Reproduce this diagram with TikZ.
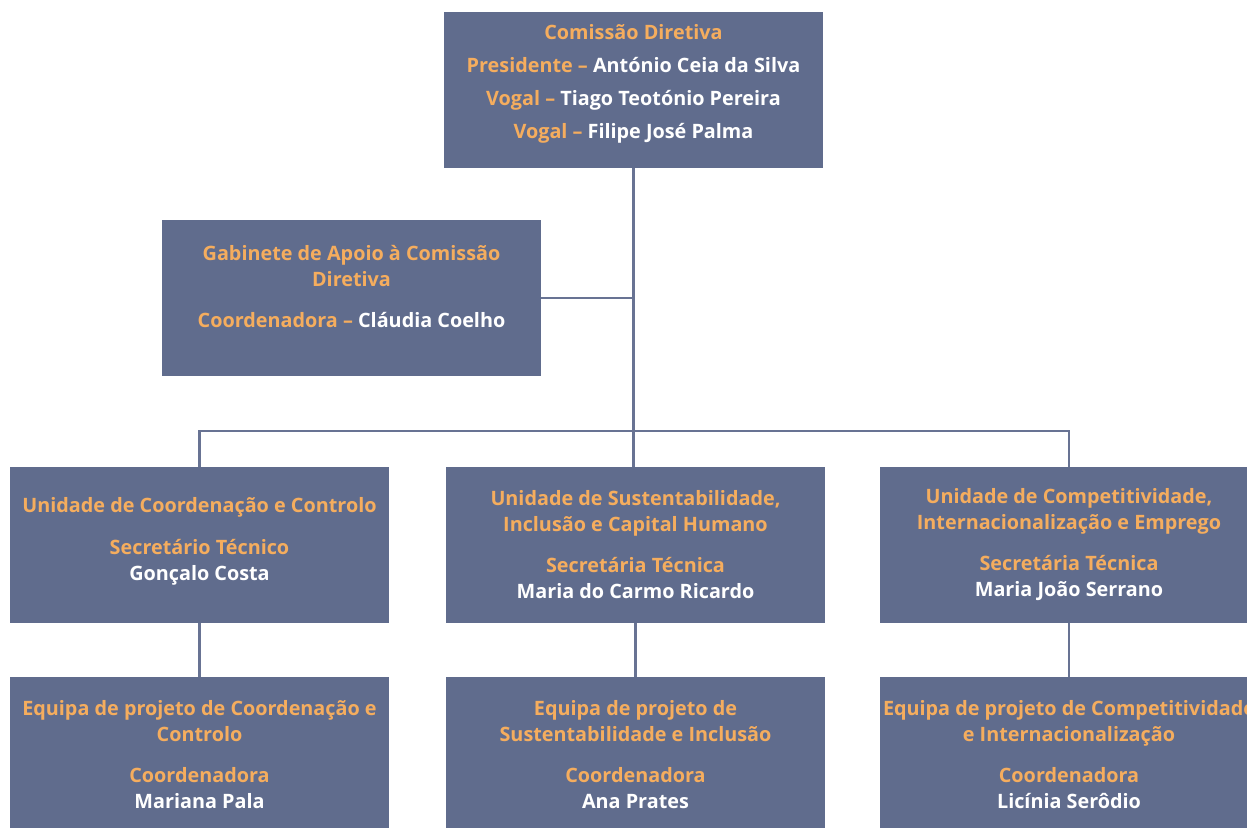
\documentclass[tikz,border=0pt]{standalone}
\usepackage{fontspec}
\setmainfont{Open Sans}
\usepackage{xcolor}
\definecolor{boxblue}{RGB}{96,108,141}
\definecolor{linkblue}{RGB}{104,115,147}
\definecolor{rolecol}{RGB}{245,173,94}
\newcommand{\role}[1]{\textcolor{rolecol}{#1}}

\begin{document}
\begin{tikzpicture}[x=0.5pt,y=-0.5pt,
    box/.style={fill=boxblue, minimum width=189.5pt, minimum height=78pt, inner sep=0pt,
      text=white, align=center, font=\bfseries\fontsize{9.9}{13}\selectfont},
    txt/.style={text=white, align=center, inner sep=0pt, font=\bfseries\fontsize{9.9}{13}\selectfont},
    link/.style={draw=linkblue, line width=1.2pt}]
      \useasboundingbox (0,0) rectangle (1247,827);
      % Boxes
      \node[box] (cd) at (633.5,90) {};
      \node[txt, below] at ([yshift=-6pt]cd.north) {\role{Comissão Diretiva}\\[3.5pt]
        \role{Presidente –} António Ceia da Silva\\[3.5pt]
        \role{Vogal –} Tiago Teotónio Pereira\\[3.5pt]
        \role{Vogal –} Filipe José Palma};
      \node[box] (gab) at (351.5,298) {};
      \node[txt, below] at ([yshift=-12.5pt]gab.north) {\role{Gabinete de Apoio à Comissão}\\
        \role{Diretiva}\\[7.5pt]
        \role{Coordenadora –} Cláudia Coelho};
      \node[box] (ucc) at (199.5,545) {};
      \node[txt] at ([yshift=2pt]ucc.center) {\role{Unidade de Coordenação e Controlo}\\[8pt]
        \role{Secretário Técnico}\\Gonçalo Costa};
      \node[box] (usi) at (635.5,545) {\role{Unidade de Sustentabilidade,}\\
        \role{Inclusão e Capital Humano}\\[7.5pt]
        \role{Secretária Técnica}\\Maria do Carmo Ricardo};
      \node[box] (uci) at (1069,545) {\role{Unidade de Competitividade,}\\
        \role{Internacionalização e Emprego}\\[7.5pt]
        \role{Secretária Técnica}\\Maria João Serrano};
      \node[box] (ecc) at (199.5,755) {\role{Equipa de projeto de Coordenação e}\\
        \role{Controlo}\\[7.5pt]
        \role{Coordenadora}\\Mariana Pala};
      \node[box] (esi) at (635.5,755) {\role{Equipa de projeto de}\\
        \role{Sustentabilidade e Inclusão}\\[7.5pt]
        \role{Coordenadora}\\Ana Prates};
      \node[box] (eci) at (1069,755) {\role{Equipa de projeto de Competitividade}\\
        \role{e Internacionalização}\\[7.5pt]
        \role{Coordenadora}\\Licínia Serôdio};
      % Connectors
      \coordinate (bus) at (633.5,431);
      \draw[link] (cd.south) -- (bus);
      \draw[link] (gab.east) -- (gab.east -| bus);
      \draw[link] (ucc.north) |- (bus) -| (uci.north);
      \draw[link] (bus) -- (bus |- usi.north);
      \draw[link] (ucc.south) -- (ecc.north);
      \draw[link] (usi.south) -- (esi.north);
      \draw[link] (uci.south) -- (eci.north);
    \end{tikzpicture}
\end{document}
